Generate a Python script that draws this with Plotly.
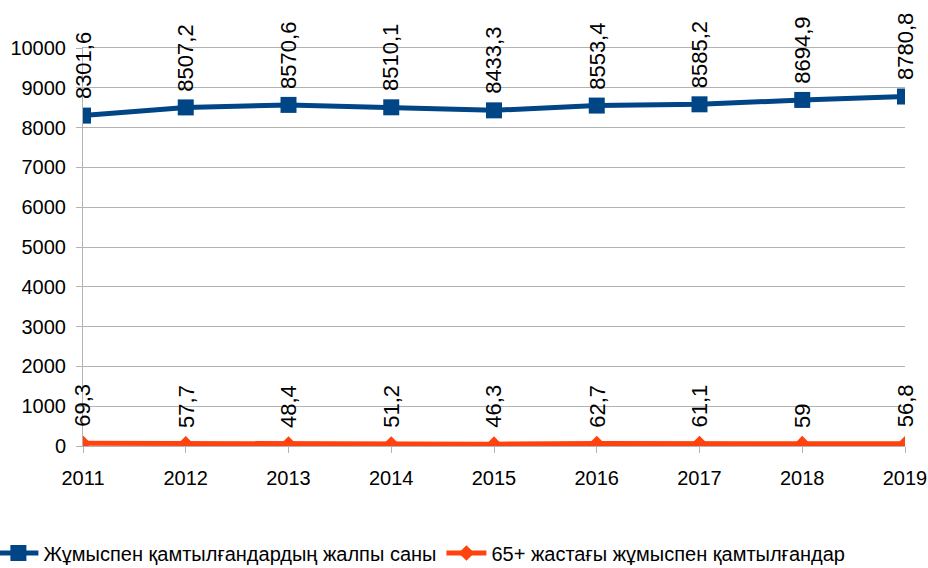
import plotly.graph_objects as go

years = [2011, 2012, 2013, 2014, 2015, 2016, 2017, 2018, 2019]
total_employed = [8301.6, 8507.2, 8570.6, 8510.1, 8433.3, 8553.4, 8585.2, 8694.9, 8780.8]
employed_65plus = [69.3, 57.7, 48.4, 51.2, 46.3, 62.7, 61.1, 59, 56.8]
name_total = "Жұмыспен қамтылғандардың жалпы саны"
name_65 = "65+ жастағы жұмыспен қамтылғандар"
y_ticks = list(range(0, 10001, 1000))

BLUE = "#004586"
ORANGE = "#ff420e"
FONT = "Liberation Sans, Arial, sans-serif"


def fmt(v):
    s = ("%.1f" % v).rstrip("0").rstrip(".")
    return s.replace(".", ",")


fig = go.Figure()
fig.add_trace(go.Scatter(
    x=years, y=total_employed, name=name_total, mode="lines+markers",
    line=dict(color=BLUE, width=5),
    marker=dict(symbol="square", size=16, color=BLUE),
))
fig.add_trace(go.Scatter(
    x=years, y=employed_65plus, name=name_65, mode="lines+markers",
    line=dict(color=ORANGE, width=5),
    marker=dict(symbol="diamond", size=12, color=ORANGE),
))

annotations = []
for series in (total_employed, employed_65plus):
    for xv, yv in zip(years, series):
        annotations.append(dict(
            x=xv, y=yv, xref="x", yref="y", text=fmt(yv), showarrow=False,
            textangle=-90, xanchor="center", yanchor="bottom", yshift=14,
            font=dict(family=FONT, size=22, color="#000000"),
        ))

fig.update_layout(
    width=928, height=568,
    margin=dict(l=83, r=23, t=48, b=122, pad=0, autoexpand=False),
    paper_bgcolor="white", plot_bgcolor="white",
    font=dict(family=FONT, size=20, color="#000000"),
    showlegend=True,
    legend=dict(
        orientation="h", x=-0.109, xanchor="left", y=-0.269, yanchor="middle",
        font=dict(family=FONT, size=20, color="#000000"),
        itemwidth=40, tracegroupgap=0,
    ),
    annotations=annotations,
)
fig.update_xaxes(
    range=[2011, 2019], tickmode="array", tickvals=years,
    ticktext=[str(y) for y in years],
    showgrid=False, zeroline=False, automargin=False,
    showline=True, linecolor="#b3b3b3", linewidth=1, mirror=True,
    ticks="outside", ticklen=6, tickcolor="#b3b3b3", ticklabelstandoff=8,
    tickfont=dict(family=FONT, size=20, color="#000000"),
)
fig.update_yaxes(
    range=[0, 10000], tickmode="array", tickvals=y_ticks,
    ticktext=[str(v) for v in y_ticks],
    showgrid=True, gridcolor="#b3b3b3", gridwidth=1,
    zeroline=False, showline=True, linecolor="#b3b3b3", linewidth=1,
    ticks="outside", ticklen=6, tickcolor="#b3b3b3", automargin=False,
    ticklabelstandoff=6,
    tickfont=dict(family=FONT, size=20, color="#000000"),
)

# remove the default page margin so the 928x568 figure fills the window exactly
fig.write_html(
    "out.html",
    config={"displayModeBar": False},
    post_script="document.documentElement.style.margin='0';"
                "document.body.style.margin='0';"
                "document.documentElement.style.overflow='hidden';"
                "document.body.style.overflow='hidden';",
)
